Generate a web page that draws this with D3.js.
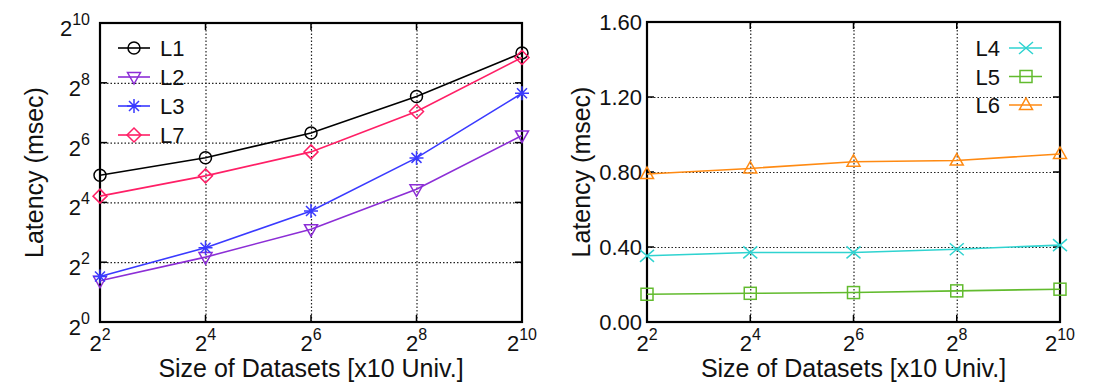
<!DOCTYPE html>
<html>
<head>
<meta charset="utf-8">
<script src="https://cdn.jsdelivr.net/npm/d3@7"></script>
<style>
  body { margin: 0; background: #fff; }
  svg { display: block; font-family: "Liberation Sans", Arial, sans-serif; }
  .grid line { stroke: #222; stroke-width: 1.2; stroke-dasharray: 1.5,2; }
  .grid path { display: none; }
  .frame { fill: none; stroke: #000; stroke-width: 2.2; }
  .tickmark { stroke: #000; stroke-width: 1.5; }
  .series { fill: none; stroke-width: 1.6; }
</style>
</head>
<body>
<svg id="chart" width="1093" height="382"></svg>
<script>
'use strict';

// x values: size of datasets (x10 univ.)
var sizes = [4, 16, 64, 256, 1024];
var xTickExp = [2, 4, 6, 8, 10];

// left panel (log2 latency, msec)
var l1 = [30, 45, 80, 186, 512];
var l2 = [2.6, 4.5, 8.6, 21.7, 75.6];
var l3 = [2.87, 5.6, 13.1, 44.9, 201];
var l7 = [18.5, 29.6, 51.6, 131.6, 461];
var leftYTickExp = [0, 2, 4, 6, 8, 10];

// right panel (linear latency, msec)
var l4 = [0.353, 0.371, 0.371, 0.388, 0.41];
var l5 = [0.148, 0.153, 0.157, 0.166, 0.175];
var l6 = [0.789, 0.819, 0.855, 0.861, 0.896];
var rightYTicks = [0, 0.4, 0.8, 1.2, 1.6];

var svg = d3.select('#chart');

function supLabel(g, x, y, exp, anchor) {
  var t = g.append('text')
    .attr('x', x).attr('y', y)
    .attr('text-anchor', anchor)
    .attr('font-size', 22)
    .attr('fill', '#111');
  t.append('tspan').text('2');
  t.append('tspan').attr('font-size', 16).attr('dy', -11).text(exp);
}

function marker(g, type, x, y, color) {
  var m = g.append('g').attr('transform', 'translate(' + x + ',' + y + ')')
    .attr('fill', 'none').attr('stroke', color).attr('stroke-width', 1.5);
  if (type === 'circle') {
    m.append('circle').attr('r', 6);
  } else if (type === 'tridown') {
    m.append('path').attr('d', 'M-6.5,-4.5L6.5,-4.5L0,7Z');
  } else if (type === 'triup') {
    m.append('path').attr('d', 'M-6.5,4.5L6.5,4.5L0,-7Z');
  } else if (type === 'star') {
    m.append('path').attr('d', 'M-7,0L7,0M0,-7L0,7M-5,-5L5,5M-5,5L5,-5');
  } else if (type === 'cross') {
    m.append('path').attr('d', 'M-7,-6L7,6M-7,6L7,-6');
  } else if (type === 'square') {
    m.append('rect').attr('x', -6).attr('y', -6).attr('width', 12).attr('height', 12);
  } else if (type === 'diamond') {
    m.append('path').attr('d', 'M0,-7L7,0L0,7L-7,0Z');
  }
}

function drawSeries(g, xs, ys, vals, color, type) {
  var pts = sizes.map(function(s, i) { return [xs(s), ys(vals[i])]; });
  g.append('path').attr('class', 'series')
    .attr('stroke', color)
    .attr('d', d3.line()(pts));
  pts.forEach(function(p) { marker(g, type, p[0], p[1], color); });
}

function drawFrame(g, xs, ys, w, h, xTicks, yTicks) {
  // dotted grid, inner ticks only
  g.append('g').attr('class', 'grid')
    .attr('transform', 'translate(0,' + h + ')')
    .call(d3.axisBottom(xs).tickValues(xTicks.slice(1, -1)).tickSize(-h).tickFormat(''));
  g.append('g').attr('class', 'grid')
    .call(d3.axisLeft(ys).tickValues(yTicks.slice(1, -1)).tickSize(-w).tickFormat(''));

  xTicks.forEach(function(v) {
    var x = xs(v);
    g.append('line').attr('class', 'tickmark').attr('x1', x).attr('x2', x).attr('y1', h).attr('y2', h - 7);
    g.append('line').attr('class', 'tickmark').attr('x1', x).attr('x2', x).attr('y1', 0).attr('y2', 7);
  });
  yTicks.forEach(function(v) {
    var y = ys(v);
    g.append('line').attr('class', 'tickmark').attr('x1', 0).attr('x2', 7).attr('y1', y).attr('y2', y);
    g.append('line').attr('class', 'tickmark').attr('x1', w).attr('x2', w - 7).attr('y1', y).attr('y2', y);
  });
  g.append('rect').attr('class', 'frame').attr('width', w).attr('height', h);

  xTickExp.forEach(function(e, i) {
    supLabel(g, xs(xTicks[i]), h + 29, e, 'middle');
  });
  g.append('text')
    .attr('x', w / 2).attr('y', h + 55)
    .attr('text-anchor', 'middle')
    .attr('font-size', 25).attr('fill', '#111')
    .text('Size of Datasets [x10 Univ.]');
  g.append('text')
    .attr('transform', 'translate(-57,' + (h / 2) + ') rotate(-90)')
    .attr('text-anchor', 'middle')
    .attr('font-size', 25).attr('fill', '#111')
    .text('Latency (msec)');
}

// ---- left panel ----
var L = {left: 100, top: 23, width: 422, height: 299};
var gL = svg.append('g').attr('transform', 'translate(' + L.left + ',' + L.top + ')');
var xL = d3.scaleLog().base(2).domain([4, 1024]).range([0, L.width]);
var yL = d3.scaleLog().base(2).domain([1, 1024]).range([L.height, 0]);
var yLTicks = leftYTickExp.map(function(e) { return Math.pow(2, e); });

drawFrame(gL, xL, yL, L.width, L.height, sizes, yLTicks);
leftYTickExp.forEach(function(e, i) {
  supLabel(gL, -10, yL(yLTicks[i]) + 13, e, 'end');
});

var leftSeries = [
  {name: 'L1', vals: l1, color: '#000000', type: 'circle'},
  {name: 'L2', vals: l2, color: '#8c2ed6', type: 'tridown'},
  {name: 'L3', vals: l3, color: '#3a3aff', type: 'star'},
  {name: 'L7', vals: l7, color: '#ff1f66', type: 'diamond'}
];
leftSeries.forEach(function(s) { drawSeries(gL, xL, yL, s.vals, s.color, s.type); });

leftSeries.forEach(function(s, i) {
  var y = 25 + i * 29;
  gL.append('line').attr('x1', 18).attr('x2', 50).attr('y1', y).attr('y2', y)
    .attr('stroke', s.color).attr('stroke-width', 1.6);
  marker(gL, s.type, 34, y, s.color);
  gL.append('text').attr('x', 60).attr('y', y + 8)
    .attr('font-size', 22).attr('fill', '#111').text(s.name);
});

// ---- right panel ----
var R = {left: 647, top: 22, width: 413, height: 300};
var gR = svg.append('g').attr('transform', 'translate(' + R.left + ',' + R.top + ')');
var xR = d3.scaleLog().base(2).domain([4, 1024]).range([0, R.width]);
var yR = d3.scaleLinear().domain([0, 1.6]).range([R.height, 0]);

drawFrame(gR, xR, yR, R.width, R.height, sizes, rightYTicks);
rightYTicks.forEach(function(v) {
  gR.append('text')
    .attr('x', -5).attr('y', yR(v) + 8)
    .attr('text-anchor', 'end')
    .attr('font-size', 22).attr('fill', '#111')
    .text(v.toFixed(2));
});

var rightSeries = [
  {name: 'L4', vals: l4, color: '#2fd3d0', type: 'cross'},
  {name: 'L5', vals: l5, color: '#62bb2e', type: 'square'},
  {name: 'L6', vals: l6, color: '#ff8a12', type: 'triup'}
];
rightSeries.forEach(function(s) { drawSeries(gR, xR, yR, s.vals, s.color, s.type); });

rightSeries.forEach(function(s, i) {
  var y = 26 + i * 28.5;
  gR.append('line').attr('x1', 362).attr('x2', 395).attr('y1', y).attr('y2', y)
    .attr('stroke', s.color).attr('stroke-width', 1.6);
  marker(gR, s.type, 379, y, s.color);
  gR.append('text').attr('x', 353).attr('y', y + 8)
    .attr('text-anchor', 'end')
    .attr('font-size', 22).attr('fill', '#111').text(s.name);
});
</script>
</body>
</html>
